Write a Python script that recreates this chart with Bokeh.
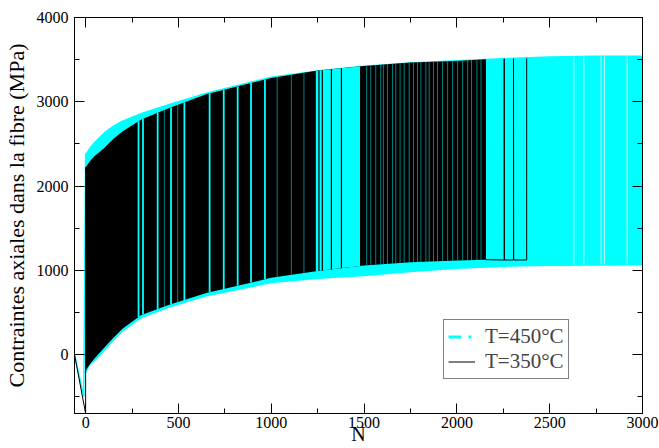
import numpy as np
from bokeh.plotting import figure
from bokeh.models import Range1d, LinearAxis, FixedTicker, Legend, LegendItem
from bokeh.embed import file_html
from bokeh.resources import INLINE

# ---------------- data ----------------
# T=450°C : envelope of the cycling stress (upper / lower values)
N_450 = [0, 25, 50, 100, 150, 200, 300, 450, 650, 1000, 1250, 1500, 1750, 2000, 2250, 2500, 2750, 3000]
upper_450 = [2385, 2470, 2530, 2640, 2720, 2780, 2870, 2975, 3110, 3300, 3375, 3430, 3470, 3495, 3520, 3540, 3548, 3550]
lower_450 = [-230, -120, -80, 40, 160, 270, 430, 555, 690, 845, 895, 930, 975, 1015, 1040, 1050, 1055, 1058]
# first loading of the T=450°C run
N_450_start = [-60, -10, 0]
s_450_start = [0, -500, 2385]

# T=350°C : envelope of the cycling stress
N_350 = [0, 25, 50, 100, 150, 200, 300, 450, 650, 1000, 1250, 1500, 1750, 2000, 2157]
upper_350 = [2223, 2300, 2360, 2450, 2560, 2650, 2790, 2925, 3090, 3282, 3370, 3425, 3465, 3485, 3505]
lower_350 = [-190, -110, -40, 80, 200, 310, 470, 590, 730, 910, 990, 1058, 1095, 1117, 1125]
N_350_start = [-60, 0, 0]
s_350_start = [0, -700, 2223]
# last long cycles of the T=350°C run
N_350_tail = [2157, 2255, 2255, 2256, 2305, 2305, 2306, 2376, 2376]
s_350_tail = [1125, 1122, 3510, 1122, 1122, 3510, 1122, 1122, 3515]

# cycles where the T=350°C curve leaves the T=450°C curve visible
gap_block_350 = [1240, 1478]
black_in_block = [1257, 1275, 1324, 1378]
bright_gaps_350 = [285, 309, 388, 460, 532, 668, 744, 819, 891, 966]
dim_gaps_350 = [424, 496, 1032, 1108, 1176, 1514, 1536, 1563, 1590, 1604, 1626, 1653, 1671,
                1694, 1716, 1743, 1766, 1788, 1806, 1833, 1851, 1874, 1896, 1923, 1950,
                1977, 2004, 2031, 2058, 2079, 2108, 2130]
# missing cycles of the T=450°C run
gaps_450 = [2630, 2684, 2777, 2795, 2917]

x_major = [0, 500, 1000, 1500, 2000, 2500, 3000]
x_minor = [250, 750, 1250, 1750, 2250, 2750]
y_major = [0, 1000, 2000, 3000, 4000]
y_minor = [-500, 500, 1500, 2500, 3500]

CYAN = "#00FFFF"
SERIF = "Liberation Serif"

p = figure(width=659, height=448, output_backend="svg", toolbar_location=None,
           x_range=Range1d(-60, 3000), y_range=Range1d(-700, 4000),
           min_border_left=74, min_border_right=17, min_border_top=17, min_border_bottom=35)
p.xgrid.visible = False
p.ygrid.visible = False
p.outline_line_color = "black"
p.outline_line_width = 1
p.background_fill_color = "white"
p.border_fill_color = "white"

# ---- T=450°C band ----
p.varea(x=N_450, y1=lower_450, y2=upper_450, fill_color=CYAN)
p.line(x=N_450_start, y=s_450_start, line_color=CYAN, line_width=1.5)
g_lo = np.interp(gaps_450, N_450, lower_450) + 15
g_hi = np.interp(gaps_450, N_450, upper_450) - 10
p.segment(x0=gaps_450, y0=g_lo, x1=gaps_450, y1=g_hi, line_color="white", line_width=1, line_alpha=0.8)

# ---- T=350°C band ----
p.varea(x=N_350, y1=lower_350, y2=upper_350, fill_color="black")
p.line(x=N_350_start, y=s_350_start, line_color="black", line_width=1)
p.line(x=N_350_tail, y=s_350_tail, line_color="black", line_width=1)

blk_x = np.linspace(gap_block_350[0], gap_block_350[1], 12)
p.varea(x=blk_x, y1=np.interp(blk_x, N_350, lower_350), y2=np.interp(blk_x, N_350, upper_350),
        fill_color=CYAN)
p.segment(x0=black_in_block, y0=np.interp(black_in_block, N_350, lower_350),
          x1=black_in_block, y1=np.interp(black_in_block, N_350, upper_350),
          line_color="black", line_width=1.2)
p.segment(x0=bright_gaps_350, y0=np.interp(bright_gaps_350, N_350, lower_350),
          x1=bright_gaps_350, y1=np.interp(bright_gaps_350, N_350, upper_350),
          line_color=CYAN, line_width=1.8)
p.segment(x0=dim_gaps_350, y0=np.interp(dim_gaps_350, N_350, lower_350),
          x1=dim_gaps_350, y1=np.interp(dim_gaps_350, N_350, upper_350),
          line_color=CYAN, line_width=1, line_alpha=0.5)

# ---- legend-only renderers ----
leg450 = p.line(x=[np.nan], y=[np.nan], line_color=CYAN, line_width=3, line_dash="13 7 3 7")
leg350 = p.line(x=[np.nan], y=[np.nan], line_color="black", line_width=1)
legend = Legend(items=[LegendItem(label="T=450°C", renderers=[leg450]),
                       LegendItem(label="T=350°C", renderers=[leg350])],
                location=(369, 34), orientation="vertical",
                label_text_font=SERIF, label_text_font_size="21px",
                glyph_width=27, glyph_height=21, label_height=21, label_standoff=10,
                padding=4, spacing=0, margin=0,
                border_line_color="black", border_line_width=1,
                background_fill_color="white", background_fill_alpha=1)
p.add_layout(legend)

# ---- axes (ticks inward on all four sides) ----
def style(ax, major, minor, show_labels):
    ax.ticker = FixedTicker(ticks=major, minor_ticks=minor)
    ax.major_tick_in = 10
    ax.major_tick_out = 0
    ax.minor_tick_in = 5
    ax.minor_tick_out = 0
    ax.axis_line_color = "black"
    ax.major_tick_line_color = "black"
    ax.minor_tick_line_color = "black"
    ax.major_label_text_font = SERIF
    ax.major_label_text_color = "black"
    ax.axis_label_text_font = SERIF
    ax.axis_label_text_font_style = "normal"
    ax.axis_label_text_color = "black"
    ax.axis_label_text_font_size = "20px"
    if show_labels:
        ax.major_label_text_font_size = "16px"
    else:
        ax.major_label_overrides = {t: "" for t in major}
        ax.major_label_standoff = 0

style(p.xaxis[0], x_major, x_minor, True)
style(p.yaxis[0], y_major, y_minor, True)
p.xaxis[0].major_label_standoff = 3
p.xaxis[0].axis_label = "N"
p.xaxis[0].axis_label_standoff = -8
p.yaxis[0].major_label_standoff = 6
p.yaxis[0].axis_label = "Contraintes axiales dans la fibre (MPa)"
p.yaxis[0].axis_label_text_font_size = "22px"
p.yaxis[0].axis_label_standoff = 5

top = LinearAxis()
style(top, x_major, x_minor, False)
p.add_layout(top, "above")
right = LinearAxis()
style(right, y_major, y_minor, False)
p.add_layout(right, "right")

open("out.html", "w").write(file_html(p, INLINE))
